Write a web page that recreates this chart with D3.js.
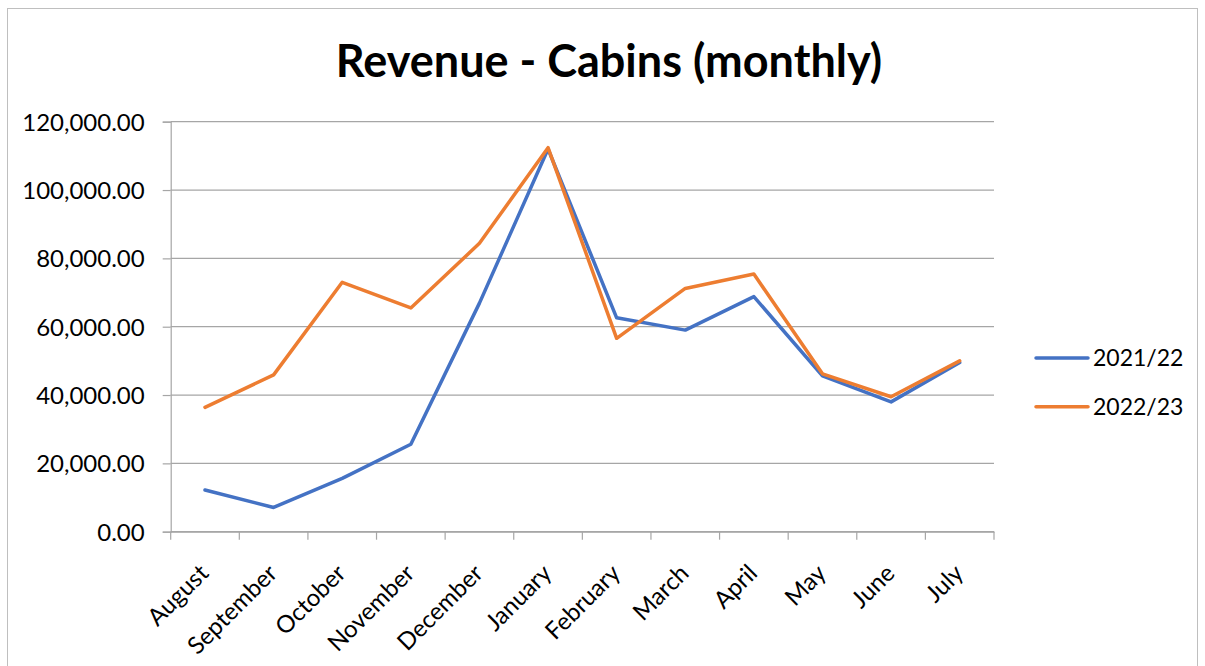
<!DOCTYPE html>
<html><head><meta charset="utf-8">
<script src="https://cdn.jsdelivr.net/npm/d3@7"></script>
<style>
html,body{margin:0;padding:0;background:#fff;}
svg{display:block;font-family:Lato,"Open Sans",sans-serif;}
</style></head>
<body><svg id="c" width="1205" height="666"></svg>
<script>
const months = ["August","September","October","November","December","January","February","March","April","May","June","July"];
const series2122 = [12200,7100,15600,25600,66900,112000,62600,59000,68800,45600,38000,49500];
const series2223 = [36400,45900,73000,65500,84400,112400,56600,71200,75400,46200,39500,50000];
const seriesNames = ["2021/22","2022/23"];
const seriesColors = ["#4472C4","#ED7D31"];
const yTicks = [0,20000,40000,60000,80000,100000,120000];
const title = "Revenue - Cabins (monthly)";

const svg = d3.select("#c");
svg.append("rect").attr("x",7.5).attr("y",8.5).attr("width",1190).attr("height",670)
  .attr("fill","#fff").attr("stroke","#BFBFBF").attr("stroke-width",1);

const L=170.7, R=994, T=121.7, B=531.7;
const x = d3.scaleBand().domain(months).range([L,R]);
const y = d3.scaleLinear().domain([0,120000]).range([B,T]);

svg.append("text").attr("x",609).attr("y",77).attr("text-anchor","middle")
  .attr("font-size",45).attr("font-weight","bold").attr("fill","#000").text(title);

// gridlines
svg.append("g").selectAll("line").data(yTicks).join("line")
  .attr("x1",L).attr("x2",R).attr("y1",d=>y(d)).attr("y2",d=>y(d))
  .attr("stroke","#A6A6A6").attr("stroke-width",1.2);

// y axis
const fmt = d3.format(",.2f");
const ya = svg.append("g").attr("transform",`translate(${L},0)`)
  .call(d3.axisLeft(y).tickValues(yTicks).tickFormat(fmt).tickSize(8).tickPadding(18));
ya.select(".domain").attr("stroke","#A6A6A6").attr("stroke-width",1.2);
ya.selectAll(".tick line").attr("stroke","#A6A6A6").attr("stroke-width",1.2);
ya.selectAll("text").attr("font-size",24).attr("fill","#000").attr("font-family","Lato,'Open Sans',sans-serif").attr("dy","0.35em");

// x axis
const xa = svg.append("g").attr("transform",`translate(0,${B})`)
  .call(d3.axisBottom(x).tickSize(0).tickFormat(""));
xa.select(".domain").attr("stroke","#A6A6A6").attr("stroke-width",1.2);
const bounds = months.map(m=>x(m)).concat([R]);
svg.append("g").selectAll("line").data(bounds).join("line")
  .attr("x1",d=>d).attr("x2",d=>d).attr("y1",B).attr("y2",B+8)
  .attr("stroke","#A6A6A6").attr("stroke-width",1.2);
svg.append("g").selectAll("text").data(months).join("text")
  .attr("transform",d=>`translate(${x(d)+x.bandwidth()/2+5},${B+43}) rotate(-45)`)
  .attr("text-anchor","end").attr("font-size",24).attr("fill","#000")
  .text(d=>d);

// lines
const line = d3.line().x((d,i)=>x(months[i])+x.bandwidth()/2).y(d=>y(d));
[series2122,series2223].forEach((s,i)=>{
  svg.append("path").datum(s).attr("d",line).attr("fill","none")
    .attr("stroke",seriesColors[i]).attr("stroke-width",3.5)
    .attr("stroke-linejoin","round").attr("stroke-linecap","round");
});

// legend
seriesNames.forEach((n,i)=>{
  const ly = 358 + i*48.7;
  svg.append("line").attr("x1",1036).attr("x2",1088).attr("y1",ly).attr("y2",ly)
    .attr("stroke",seriesColors[i]).attr("stroke-width",3.5).attr("stroke-linecap","round");
  svg.append("text").attr("x",1093).attr("y",ly).attr("dy","0.35em")
    .attr("font-size",23).attr("fill","#000").text(n);
});
</script></body></html>
